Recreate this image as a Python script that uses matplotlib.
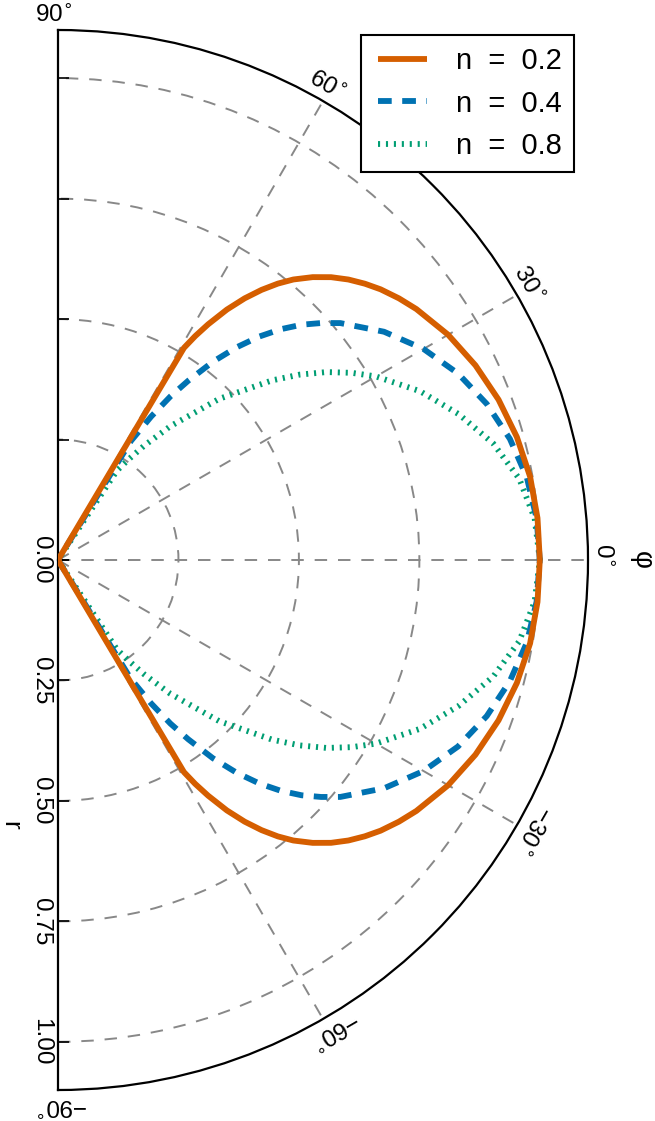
import numpy as np
import matplotlib.pyplot as plt
from matplotlib.lines import Line2D
from matplotlib.legend_handler import HandlerLine2D
from matplotlib.transforms import offset_copy

plt.rcParams['font.family'] = ['Liberation Sans', 'DejaVu Sans']
plt.rcParams['mathtext.fontset'] = 'dejavusans'

# upper half of each curve (deg, r); lower half is the mirror image
# last point r = 0 at the same angle: straight run back into the origin
phi_02 = [0, 5, 10, 15, 20, 25, 30, 35, 37.5, 40, 42, 44, 46, 48, 50, 51.5, 53, 54.5, 56,
          57.5, 58.5, 59.3, 59.3]
r_02 = [1.0, 0.999, 0.995, 0.986, 0.973, 0.956, 0.935, 0.908, 0.892, 0.874, 0.857, 0.838,
        0.816, 0.79, 0.76, 0.733, 0.702, 0.667, 0.627, 0.58, 0.545, 0.512, 0.0]

phi_04 = [0, 5, 10, 15, 20, 25, 30, 35, 40, 42, 44, 46, 48, 50, 52, 54, 55.5, 57, 58.5, 58.5]
r_04 = [1.0, 0.997, 0.988, 0.971, 0.947, 0.916, 0.876, 0.826, 0.765, 0.735, 0.703, 0.666,
        0.624, 0.576, 0.522, 0.46, 0.412, 0.355, 0.29, 0.0]

phi_08 = [0, 5, 10, 15, 20, 25, 30, 32.5, 35, 37.5, 40, 45, 50, 53, 55, 56.6, 56.6]
r_08 = [1.0, 0.993, 0.972, 0.935, 0.885, 0.829, 0.762, 0.723, 0.68, 0.632, 0.58, 0.473,
        0.362, 0.297, 0.254, 0.222, 0.0]

labels = ['n  =  0.2', 'n  =  0.4', 'n  =  0.8']
colors = ['#D55E00', '#0072B2', '#009E73']
theta_ticks = [-90, -60, -30, 0, 30, 60, 90]
r_ticks = [0.0, 0.25, 0.5, 0.75, 1.0]
r_max = 1.1

fig = plt.figure(figsize=(6.55, 11.21), dpi=100)
# square box; the half disc is fitted inside it and centred
ax = fig.add_axes([-207 / 655, 31 / 1121, 1060 / 655, 1060 / 1121], projection='polar')
ax.set_thetamin(-90)
ax.set_thetamax(90)
ax.set_rlim(0, r_max)

ax.set_thetagrids([-60, -30, 0, 30, 60], labels=[''] * 5)
ax.set_rgrids(r_ticks, labels=[''] * len(r_ticks))
ax.grid(True, color='#888888', lw=1.4, ls=(0, (6.4, 5.6)))
ax.tick_params(axis='x', direction='in', length=8, width=1.2, color='black')
ax.tick_params(axis='y', direction='in', length=8, width=1.2, color='black', left=True, right=True)
for sp in ax.spines.values():
    sp.set_linewidth(1.6)
    sp.set_color('black')

styles = ['-', (0, (2.35, 1.8)), (0, (0.36, 1.0))]
zs = [5, 4, 3]
lines = []
for phi, r, c, ls, z, lab in zip([phi_02, phi_04, phi_08], [r_02, r_04, r_08],
                                 colors, styles, zs, labels):
    phi = np.asarray(phi)
    r = np.asarray(r)
    th = np.deg2rad(np.r_[-phi[::-1], phi[1:]])
    rr = np.r_[r[::-1], r[1:]]
    ln, = ax.plot(th, rr, color=c, lw=4.2, ls=ls, zorder=z, label=lab,
                  solid_joinstyle='round', solid_capstyle='butt', dash_capstyle='butt')
    lines.append(ln)

# theta labels, written along the arc
for t in theta_ticks:
    s = ('\u2212' if t < 0 else '') + str(abs(t)) + r'$^{\circ}$'
    ax.text(np.deg2rad(t + 0.5), r_max + 0.030, s, rotation=t - 90, rotation_mode='anchor',
            ha='center', va='center', fontsize=17.5)

# r labels on the left spine
lab_tr = offset_copy(ax.transData, fig=fig, x=-17, y=0, units='dots')
for v in r_ticks:
    ax.text(np.deg2rad(-90), v, f'{v:.2f}', transform=lab_tr, rotation=-90,
            rotation_mode='anchor', ha='center', va='center', fontsize=17.5)

ax.text(np.deg2rad(-90), 0.55, 'r', transform=offset_copy(ax.transData, fig=fig, x=-48, y=0, units='dots'),
        rotation=-90, rotation_mode='anchor', ha='center', va='center', fontsize=19)
ax.text(0, r_max, '\u03c6', transform=offset_copy(ax.transData, fig=fig, x=54, y=0, units='dots'),
        rotation=-90, rotation_mode='anchor', ha='center', va='center', fontsize=20)

leg = ax.legend(handles=lines, loc='upper left', bbox_to_anchor=(361 / 655, 1 - 35 / 1121),
                bbox_transform=fig.transFigure, borderaxespad=0, fontsize=21, fancybox=False,
                framealpha=1, edgecolor='black', handlelength=1.84, handletextpad=1.0,
                borderpad=0.42, labelspacing=0.49,
                handler_map={Line2D: HandlerLine2D(xpad=0.16)})
leg.get_frame().set_linewidth(1.5)
leg.set_zorder(10)

fig.savefig('out.png', dpi=100, facecolor='white')
